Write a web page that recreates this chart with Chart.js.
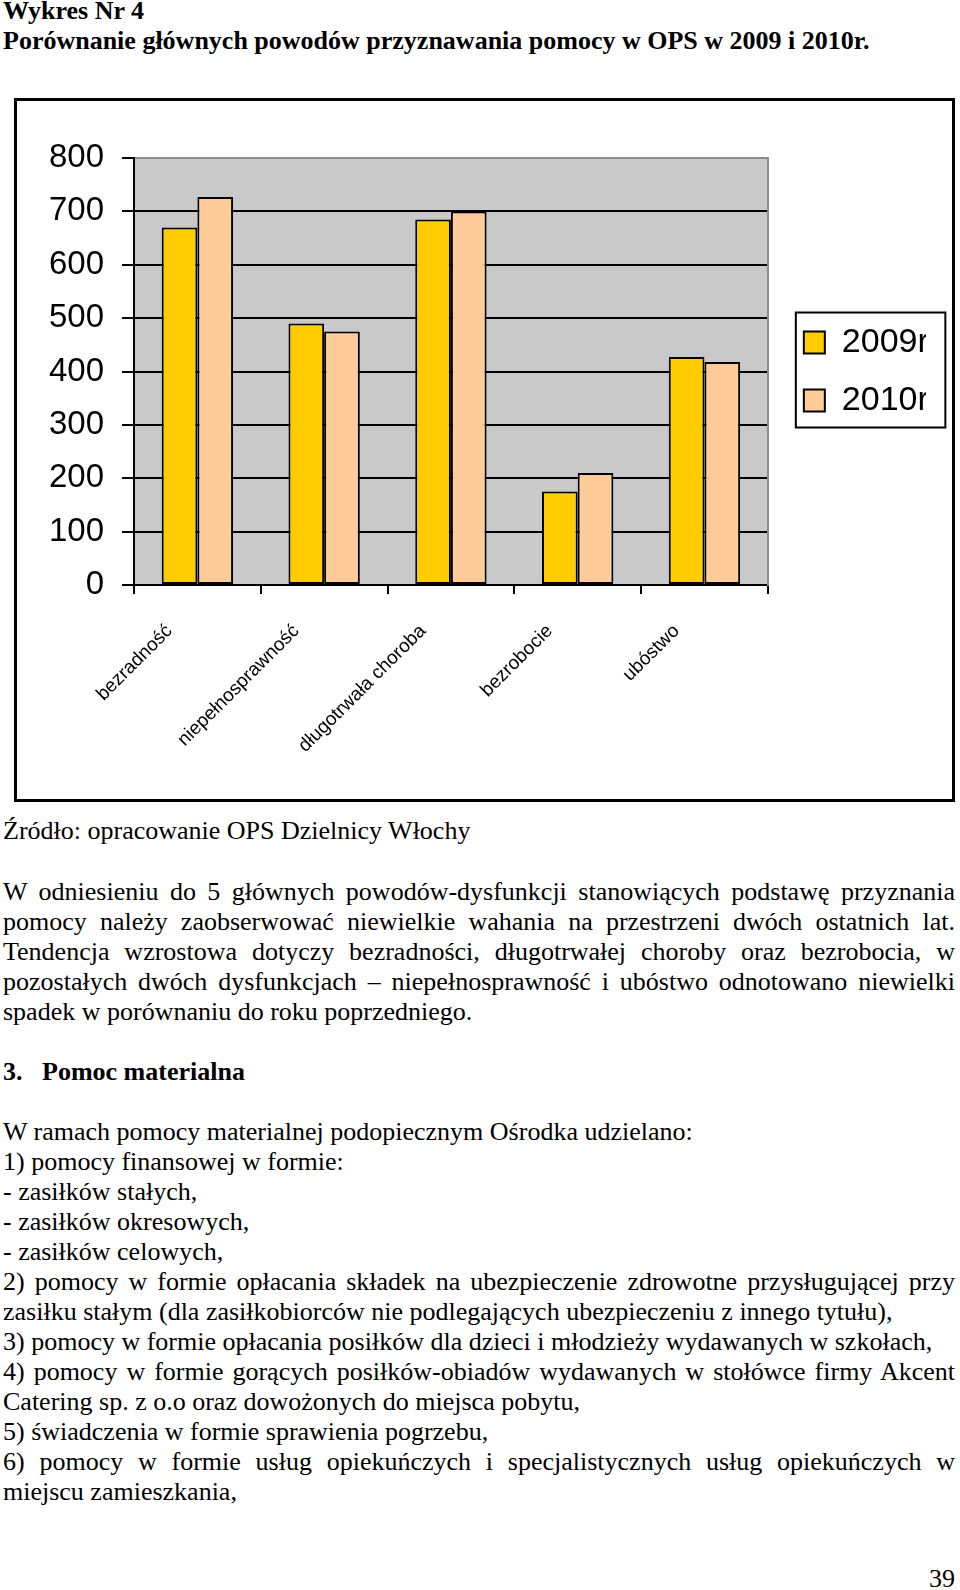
<!DOCTYPE html>
<html lang="pl">
<head>
<meta charset="utf-8">
<script src="https://cdn.jsdelivr.net/npm/chart.js@4.4.1/dist/chart.umd.min.js"></script>
<style>
  body { margin: 0; width: 960px; height: 1590px; position: relative; background: #fff; color: #000;
         font-family: "Liberation Serif", "Times New Roman", serif; overflow: hidden; }
  .ln { position: absolute; left: 3px; width: 952px; font-size: 26px; line-height: 30px; white-space: nowrap; }
  .j { text-align: justify; text-align-last: justify; white-space: normal; }
  .b { font-weight: bold; }
  #frame { position: absolute; left: 14px; top: 98px; width: 935px; height: 698px; border: 3px solid #000; }
  #frame canvas { display: block; }
</style>
</head>
<body>
<div class="ln b" style="top:-4px">Wykres Nr 4</div>
<div class="ln b" style="top:26px">Porównanie głównych powodów przyznawania pomocy w OPS w 2009 i 2010r.</div>

<div id="frame"><canvas id="reasonsChart"></canvas></div>

<div class="ln" style="top:816px">Źródło: opracowanie OPS Dzielnicy Włochy</div>

<div class="ln j" style="top:877px">W odniesieniu do 5 głównych powodów-dysfunkcji stanowiących podstawę przyznania</div>
<div class="ln j" style="top:907px">pomocy należy zaobserwować niewielkie wahania na przestrzeni dwóch ostatnich lat.</div>
<div class="ln j" style="top:937px">Tendencja wzrostowa dotyczy bezradności, długotrwałej choroby oraz bezrobocia, w</div>
<div class="ln j" style="top:967px">pozostałych dwóch dysfunkcjach – niepełnosprawność i ubóstwo odnotowano niewielki</div>
<div class="ln" style="top:997px">spadek w porównaniu do roku poprzedniego.</div>

<div class="ln b" style="top:1057px"><span style="display:inline-block;width:39px">3.</span>Pomoc materialna</div>

<div class="ln" style="top:1117px">W ramach pomocy materialnej podopiecznym Ośrodka udzielano:</div>
<div class="ln" style="top:1147px">1) pomocy finansowej w formie:</div>
<div class="ln" style="top:1177px">- zasiłków stałych,</div>
<div class="ln" style="top:1207px">- zasiłków okresowych,</div>
<div class="ln" style="top:1237px">- zasiłków celowych,</div>
<div class="ln j" style="top:1267px">2) pomocy w formie opłacania składek na ubezpieczenie zdrowotne przysługującej przy</div>
<div class="ln" style="top:1297px">zasiłku stałym (dla zasiłkobiorców nie podlegających ubezpieczeniu z innego tytułu),</div>
<div class="ln" style="top:1327px">3) pomocy w formie opłacania posiłków dla dzieci i młodzieży wydawanych w szkołach,</div>
<div class="ln j" style="top:1357px">4) pomocy w formie gorących posiłków-obiadów wydawanych w stołówce firmy Akcent</div>
<div class="ln" style="top:1387px">Catering sp. z o.o oraz dowożonych do miejsca pobytu,</div>
<div class="ln" style="top:1417px">5) świadczenia w formie sprawienia pogrzebu,</div>
<div class="ln j" style="top:1447px">6) pomocy w formie usług opiekuńczych i specjalistycznych usług opiekuńczych w</div>
<div class="ln" style="top:1477px">miejscu zamieszkania,</div>

<div class="ln" style="top:1564px;text-align:right">39</div>

<script>
// Dane do wykresu
const categories = ['bezradność', 'niepełnosprawność', 'długotrwała choroba', 'bezrobocie', 'ubóstwo'];
const seriesNames = ['2009r.', '2010r.'];
const values2009 = [670, 490, 685, 175, 427];
const values2010 = [727, 475, 700, 210, 418];
const yMin = 0;
const yMax = 800;
const yStep = 100;

const sans = '"Liberation Sans", Arial, sans-serif';

// szare tło obszaru wykresu
const plotBackground = {
  id: 'plotBackground',
  beforeDraw(chart) {
    const { ctx, chartArea: a } = chart;
    ctx.save();
    ctx.fillStyle = '#c9c9c9';
    ctx.fillRect(a.left, a.top, a.width, a.height);
    ctx.restore();
  }
};

// ramka wokół legendy
const legendFrame = {
  id: 'legendFrame',
  afterDraw(chart) {
    const boxes = chart.legend.legendHitBoxes;
    if (!boxes || !boxes.length) return;
    const left = Math.min(...boxes.map(b => b.left)) - 8;
    const top = Math.min(...boxes.map(b => b.top)) - 13;
    const right = Math.max(...boxes.map(b => b.left + b.width)) + 9;
    const bottom = Math.max(...boxes.map(b => b.top + b.height)) + 10;
    const ctx = chart.ctx;
    ctx.save();
    ctx.strokeStyle = '#000';
    ctx.lineWidth = 2;
    ctx.strokeRect(left, top, right - left, bottom - top);
    ctx.restore();
  }
};

const ctx = document.getElementById('reasonsChart').getContext('2d');
new Chart(ctx, {
  type: 'bar',
  data: {
    labels: categories,
    datasets: [{
      label: seriesNames[0],
      data: values2009,
      backgroundColor: '#ffcc00',
      borderColor: '#000',
      borderWidth: 2,
      borderSkipped: false
    }, {
      label: seriesNames[1],
      data: values2010,
      backgroundColor: '#ffcc99',
      borderColor: '#000',
      borderWidth: 2,
      borderSkipped: false
    }]
  },
  options: {
    responsive: true,
    maintainAspectRatio: false,
    animation: false,
    events: [],
    datasets: { bar: { barPercentage: 1, categoryPercentage: 0.563 } },
    layout: { padding: { left: 32, top: 57, right: 26, bottom: 0 } },
    plugins: {
      tooltip: { enabled: false },
      legend: {
        position: 'right',
        fullSize: false,
        labels: {
          color: '#000',
          font: { family: sans, size: 34 },
          boxWidth: 21,
          boxHeight: 22,
          padding: 24
        }
      }
    },
    scales: {
      x: {
        offset: true,
        grid: { display: true, drawOnChartArea: false, offset: true, tickLength: 9, color: '#000', lineWidth: 2 },
        border: { color: '#000', width: 2 },
        ticks: {
          autoSkip: false,
          minRotation: 45,
          maxRotation: 45,
          padding: 26,
          labelOffset: -28,
          color: '#000',
          font: { family: sans, size: 19 }
        },
        afterFit: s => { s.height = 214; }
      },
      y: {
        min: yMin,
        max: yMax,
        ticks: { stepSize: yStep, padding: 18, color: '#000', font: { family: sans, size: 33 } },
        grid: {
          color: c => (c.tick && c.tick.value === yMax ? '#8c8c8c' : '#000'),
          tickColor: '#000',
          lineWidth: 2,
          tickLength: 12
        },
        border: { color: '#000', width: 2 },
        afterFit: s => { s.width = 85; }
      },
      yr: {
        type: 'linear',
        position: 'right',
        grid: { display: false },
        border: { color: '#8c8c8c', width: 2 },
        ticks: { display: false },
        afterFit: s => { s.width = 12; }
      }
    }
  },
  plugins: [plotBackground, legendFrame]
});
</script>
</body>
</html>
